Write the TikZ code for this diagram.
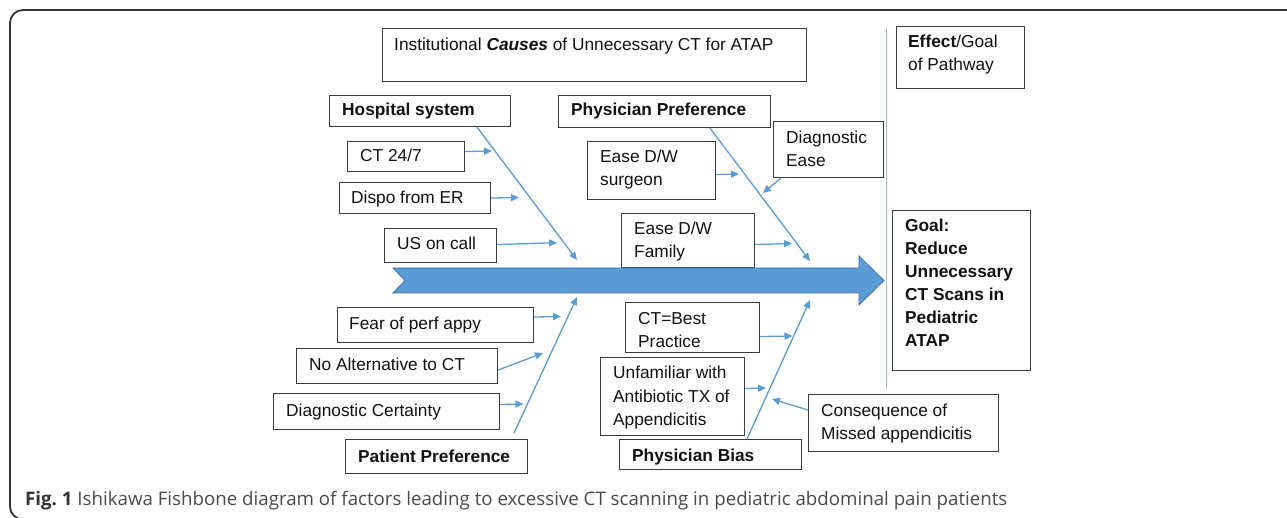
\documentclass[tikz,border=0pt]{standalone}
\usepackage{fontspec}
\setmainfont{Liberation Sans}
\newfontfamily\capfont{Open Sans}
\usetikzlibrary{arrows.meta,calc}
\definecolor{bone}{HTML}{5B9BD5}
\definecolor{bonedark}{HTML}{41719C}
\definecolor{boxline}{HTML}{3A3A3A}
\definecolor{framegray}{HTML}{333333}
\definecolor{capgray}{HTML}{4A4A4A}
\definecolor{txt}{HTML}{111111}
\begin{document}
\begin{tikzpicture}[x=1bp,y=-1bp,
  box/.style={draw=boxline, fill=white, line width=1.1bp, inner sep=0pt, anchor=north west},
  lbl/.style={inner sep=0pt, anchor=base west, align=left, text=txt,
    font=\fontsize{17.3bp}{23bp}\selectfont},
  blbl/.style={lbl, font=\fontsize{17.3bp}{23bp}\selectfont\bfseries},
  bonearrow/.style={draw=bone, line width=1.3bp, -{Triangle[length=8bp,width=7bp]}},
  vline/.style={draw=bone!65, line width=1bp}]
\useasboundingbox (0,0) rectangle (1287,518);
\clip (0,0) rectangle (1287,518);
% frame
\draw[rounded corners=13bp, line width=1.8bp, draw=framegray] (10,10) rectangle (1320,519.5);
% boxes
\node[box, minimum width=424bp, minimum height=53bp] (inst) at (382,28) {};
\node[box, minimum width=128bp, minimum height=62bp] (effect) at (896,26) {};
\node[box, minimum width=181bp, minimum height=31bp] (hosp) at (329,95) {};
\node[box, minimum width=212bp, minimum height=32bp] (phys) at (558,95) {};
\node[box, minimum width=117bp, minimum height=30bp] (ct247) at (347,141) {};
\node[box, minimum width=151bp, minimum height=31bp] (dispo) at (339,182) {};
\node[box, minimum width=112bp, minimum height=34bp] (us) at (384,228) {};
\node[box, minimum width=128bp, minimum height=58bp] (surg) at (587,141) {};
\node[box, minimum width=110bp, minimum height=56bp] (diag) at (773,121) {};
\node[box, minimum width=133bp, minimum height=54bp] (fam) at (621,213) {};
\node[box, minimum width=138bp, minimum height=160bp] (goal) at (892,210) {};
\node[box, minimum width=196bp, minimum height=35bp] (fear) at (337,307) {};
\node[box, minimum width=201bp, minimum height=35bp] (noalt) at (296,348) {};
\node[box, minimum width=226bp, minimum height=36bp] (cert) at (273,393) {};
\node[box, minimum width=182bp, minimum height=34bp] (pat) at (345,439) {};
\node[box, minimum width=134bp, minimum height=50bp] (best) at (625,302) {};
\node[box, minimum width=144bp, minimum height=78bp] (unfam) at (600,357) {};
\node[box, minimum width=182bp, minimum height=30bp] (bias) at (619,439) {};
\node[box, minimum width=190bp, minimum height=57bp] (conseq) at (808,394) {};
% texts (multi-line nodes are anchored at the baseline of their last line)
\node[lbl] (instT) at (394,51) {Institutional \textbf{\textit{Causes}} of Unnecessary CT for ATAP};
\node[lbl] (effectT) at (908,71) {\textbf{Effect}/Goal\\of Pathway};
\node[blbl] (hospT) at (342,116) {Hospital system};
\node[blbl] (physT) at (571,116) {Physician Preference};
\node[lbl] (ctT) at (360,162) {CT 24/7};
\node[lbl] (dispoT) at (351,204) {Dispo from ER};
\node[lbl] (usT) at (397,250) {US on call};
\node[lbl] (surgT) at (600,186) {Ease D/W\\surgeon};
\node[lbl] (diagT) at (786,167) {Diagnostic\\Ease};
\node[lbl] (famT) at (634,258) {Ease D/W\\Family};
\node[blbl] (goalT) at (905,347) {Goal:\\Reduce\\Unnecessary\\CT Scans in\\Pediatric\\ATAP};
\node[lbl] (fearT) at (349,330) {Fear of perf appy};
\node[lbl] (noaltT) at (309,371) {No Alternative to CT};
\node[lbl] (certT) at (286,416) {Diagnostic Certainty};
\node[blbl] (patT) at (358,462) {Patient Preference};
\node[lbl] (bestT) at (638,348) {CT=Best\\Practice};
\node[lbl] (unfamT) at (613,425) {Unfamiliar with\\Antibiotic TX of\\Appendicitis};
\node[blbl] (biasT) at (632,461) {Physician Bias};
\node[lbl] (conseqT) at (821,439) {Consequence of\\Missed appendicitis};
% spine arrow
\draw[fill=bone, draw=bonedark, line width=0.8bp]
  (393,268) -- (859,268) -- (859,256) -- (884,280.5) -- (859,305) -- (859,293) -- (393,293) -- (405,280.5) -- cycle;
% vertical divider
\coordinate (vtop) at (886,28);
\coordinate (vbot) at (886,389);
\draw[vline] (vtop) -- (vbot);
% tips
\coordinate (hospTip) at (577,260);
\coordinate (physTip) at (810,261);
\coordinate (patTip) at (577,297);
\coordinate (biasTip) at (810,300);
\coordinate (ctTip) at (492,151);
\coordinate (dispoTip) at (519,197.5);
\coordinate (usTip) at (557,242.7);
\coordinate (surgTip) at (739,174);
\coordinate (diagTip) at (763,193);
\coordinate (famTip) at (792,243.5);
\coordinate (fearTip) at (561,316.5);
\coordinate (noaltTip) at (543,353);
\coordinate (certTip) at (523.5,404);
\coordinate (bestTip) at (792.5,336);
\coordinate (unfamTip) at (766,388);
\coordinate (conseqTip) at (772,399);
% bones
\draw[bonearrow] ($(hosp.south west)+(148,0)$) -- (hospTip);
\draw[bonearrow] ($(phys.south west)+(152,0)$) -- (physTip);
\draw[bonearrow] ($(pat.north west)+(169,-6)$) -- (patTip);
\draw[bonearrow] ($(bias.north west)+(128,0)$) -- (biasTip);
% small arrows
\draw[bonearrow] ($(ct247.east)+(0,-5)$) -- (ctTip);
\draw[bonearrow] (dispo.east) -- (dispoTip);
\draw[bonearrow] ($(us.east)+(0,-1)$) -- (usTip);
\draw[bonearrow] ($(surg.east)+(0,4)$) -- (surgTip);
\draw[bonearrow] ($(diag.south west)+(8,0)$) -- (diagTip);
\draw[bonearrow] ($(fam.east)+(0,4)$) -- (famTip);
\draw[bonearrow] ($(fear.east)+(0,-8)$) -- (fearTip);
\draw[bonearrow] ($(noalt.east)+(0,4)$) -- (noaltTip);
\draw[bonearrow] ($(cert.east)+(0,-7)$) -- (certTip);
\draw[bonearrow] ($(best.east)+(0,9)$) -- (bestTip);
\draw[bonearrow] ($(unfam.east)+(0,-8)$) -- (unfamTip);
\draw[bonearrow] ($(conseq.west)+(0,-13)$) -- (conseqTip);
% caption
\node[inner sep=0pt, anchor=base west, text=capgray, font=\capfont\fontsize{18.7bp}{22bp}\selectfont] (caption) at (25,505)
  {{\bfseries\color{framegray}Fig.~1} Ishikawa Fishbone diagram of factors leading to excessive CT scanning in pediatric abdominal pain patients};
\end{tikzpicture}
\end{document}
